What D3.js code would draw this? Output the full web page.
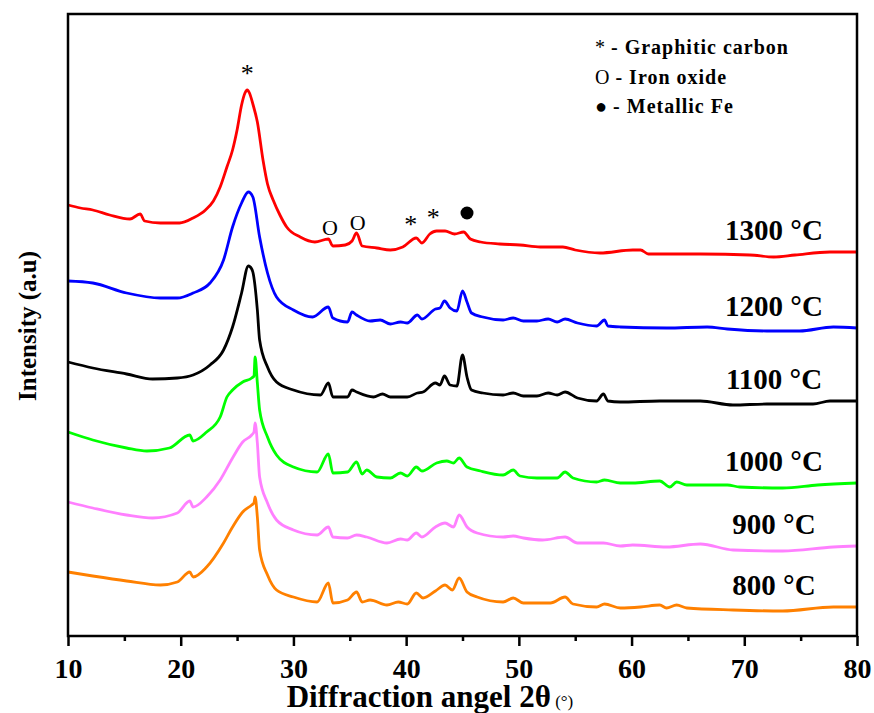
<!DOCTYPE html>
<html>

<head>
    <meta charset="utf-8">
    <script src="https://d3js.org/d3.v7.min.js"></script>
    <style>
        body { margin: 0; background: #fff; }
        text { font-family: "Liberation Serif", "Times New Roman", serif; }
    </style>
</head>

<body>
    <script type="text/javascript">
        // XRD patterns, [2theta, intensity a.u.]
        const s800 = [[10.0,64],[12.2,60],[15.2,55],[18.2,51],[19.7,54],[20.8,64],[21.1,59],[22.3,69],[23.8,93],[24.6,109],[25.5,124],[26.3,131],[26.5,133],[26.6,139],[26.8,119],[27.0,86],[27.7,61],[28.5,46],[30.0,39],[32.1,34],[33.1,53],[33.5,33],[34.8,36],[35.6,44],[36.1,34],[36.8,36],[38.3,31],[39.3,34],[40.1,32],[40.9,43],[41.5,38],[42.6,45],[43.45,51],[44.1,46],[44.7,58],[45.4,44],[46.3,39],[48.6,34],[49.5,38],[50.4,33],[52.8,33],[54.1,39],[54.8,32],[56.9,29],[57.6,32],[59.0,28],[60.8,29],[62.5,31],[63.1,28],[64.0,31],[64.9,28],[69.0,26],[73.4,25],[77.9,29],[80.0,29]];
        const s900 = [[10.0,134],[12.2,128],[15.2,121],[17.5,118],[19.7,123],[20.8,135],[21.1,129],[22.3,139],[23.5,156],[24.6,178],[25.5,194],[26.3,201],[26.5,204],[26.6,213],[26.8,193],[27.0,159],[27.7,133],[28.5,116],[30.0,106],[32.1,101],[33.1,109],[33.5,99],[34.8,98],[35.6,101],[36.5,99],[38.3,93],[39.5,97],[40.1,96],[40.9,103],[41.4,99],[42.6,109],[43.45,113],[44.2,109],[44.7,121],[45.4,109],[46.3,103],[48.6,99],[49.5,100],[50.4,98],[52.1,96],[54.1,99],[55.2,93],[57.5,93],[59.0,90],[60.1,91],[63.1,89],[66.1,92],[69.0,86],[73.4,85],[77.9,89],[80.0,90]];
        const s1000 = [[10.0,204],[12.2,196],[15.2,188],[17.0,185],[19.0,188],[20.8,201],[21.1,195],[22.3,204],[23.5,219],[24.1,239],[24.6,246],[25.5,254],[26.3,258],[26.5,260],[26.6,279],[26.8,253],[27.0,226],[27.7,199],[28.5,181],[30.0,169],[32.1,164],[33.1,182],[33.5,163],[34.8,164],[35.6,174],[36.1,162],[36.5,166],[37.4,159],[38.6,158],[39.5,163],[40.1,160],[40.9,169],[41.4,165],[42.7,173],[43.6,175],[44.2,173],[44.7,178],[45.4,169],[46.6,165],[48.6,161],[49.5,166],[50.1,160],[51.6,158],[53.4,158],[54.1,164],[54.8,158],[56.9,154],[57.6,156],[59.0,153],[60.1,153],[62.5,155],[63.4,149],[64.0,154],[64.9,151],[68.5,151],[69.6,149],[73.4,148],[76.5,151],[80.0,153]];
        const s1100 = [[10.0,274],[12.2,268],[15.2,262],[17.5,257],[19.7,258],[21.1,261],[22.6,271],[23.8,286],[24.6,309],[25.4,343],[26.0,370],[26.3,367],[26.4,364],[26.8,326],[27.0,296],[27.7,269],[28.5,254],[30.0,246],[32.4,241],[33.1,253],[33.5,239],[34.8,239],[35.2,246],[35.6,244],[37.1,239],[37.9,242],[38.6,239],[40.1,239],[41.0,243],[41.5,244],[42.6,253],[43.0,251],[43.4,260],[43.9,251],[44.5,250],[45.0,281],[45.4,259],[45.8,246],[46.8,243],[48.6,241],[49.5,243],[50.4,240],[51.6,240],[52.6,243],[53.4,241],[54.1,244],[55.2,238],[56.9,235],[57.5,242],[57.9,235],[59.0,234],[62.5,235],[66.1,235],[69.0,231],[72.0,232],[76.1,232],[77.6,235],[80.0,235]];
        const s1200 = [[10.0,355],[12.2,353],[15.2,343],[18.2,338],[19.7,338],[21.1,343],[22.6,353],[23.8,376],[24.6,409],[25.4,433],[26.0,444],[26.4,439],[27.0,399],[27.7,363],[28.5,339],[30.0,326],[31.7,319],[33.1,329],[33.5,318],[34.8,314],[35.2,324],[35.6,321],[36.8,315],[37.7,316],[38.6,312],[39.5,314],[40.1,313],[41.0,321],[41.4,317],[42.6,327],[43.0,328],[43.4,335],[43.9,328],[44.5,325],[45.0,345],[45.4,334],[45.8,323],[46.8,319],[48.6,316],[49.5,318],[50.4,315],[51.6,315],[52.6,317],[53.4,314],[54.1,317],[55.2,313],[56.9,310],[57.6,316],[57.9,310],[59.0,309],[63.1,308],[66.7,309],[68.5,307],[72.0,305],[74.9,305],[77.9,309],[80.0,308]];
        const s1300 = [[10.0,431],[11.1,428],[12.2,426],[13.7,421],[15.5,417],[16.4,422],[16.8,415],[18.2,413],[19.9,413],[21.1,418],[22.2,426],[22.9,435],[23.5,449],[24.1,469],[24.6,486],[25.0,506],[25.4,531],[25.7,543],[25.9,546],[26.1,543],[26.4,532],[26.8,514],[27.3,476],[27.7,452],[28.2,436],[28.8,421],[29.4,409],[30.6,399],[31.9,394],[33.1,397],[33.5,390],[34.6,391],[35.2,395],[35.6,403],[36.1,390],[37.4,388],[38.6,386],[39.7,389],[40.9,398],[41.4,393],[42.1,402],[42.7,405],[43.45,405],[44.3,402],[45.1,404],[45.7,397],[46.6,394],[48.3,392],[50.1,391],[51.9,389],[53.9,389],[55.0,386],[57.2,383],[60.1,386],[60.8,386],[61.5,382],[66.1,382],[70.5,381],[72.6,379],[74.5,381],[77.6,384],[80.0,384]];

        const series = [s800, s900, s1000, s1100, s1200, s1300];
        const temps = ["800 °C", "900 °C", "1000 °C", "1100 °C", "1200 °C", "1300 °C"];
        const colors = ["#ff8000", "#ff80ff", "#00ff00", "#000000", "#0000ff", "#ff0000"];

        const majorTicks = [10, 20, 30, 40, 50, 60, 70, 80];
        const minorTicks = [15, 25, 35, 45, 55, 65, 75];

        // phase marks above the 1300 °C pattern
        const marks = [
            {x: 25.9, v: 568, sym: "*"},
            {x: 33.25, v: 409, sym: "O"},
            {x: 35.7, v: 414, sym: "O"},
            {x: 40.4, v: 417, sym: "*"},
            {x: 42.4, v: 424, sym: "*"},
            {x: 45.4, v: 423, sym: "dot"}
        ];
        const legendSyms = ["*", "O", "\u25CF"];
        const legendNames = ["- Graphitic carbon", "- Iron oxide", "- Metallic Fe"];

        let width = 874, height = 713;
        let m = {left: 68, right: 857, top: 14, bottom: 636};

        let svg = d3.select("body").append("svg")
            .attr("width", width)
            .attr("height", height);

        let x = d3.scaleLinear().domain([10, 80]).range([m.left, m.right]);
        let y = d3.scaleLinear().domain([0, 622]).range([m.bottom, m.top]);

        let line = d3.line()
            .x(d => x(d[0]))
            .y(d => y(d[1]))
            .curve(d3.curveMonotoneX);

        series.forEach((s, i) => {
            svg.append("path")
                .attr("d", line(s))
                .attr("fill", "none")
                .attr("stroke", colors[i])
                .attr("stroke-width", 2.8)
                .attr("stroke-linejoin", "round");

            svg.append("text")
                .attr("x", 774)
                .attr("y", y(s[s.length - 1][1]) - 22 + 10)
                .attr("text-anchor", "middle")
                .attr("font-size", 29)
                .attr("font-weight", "bold")
                .text(temps[i]);
        });

        // x axis: major + minor ticks
        let gx = svg.append("g")
            .attr("transform", `translate(0,${m.bottom})`)
            .call(d3.axisBottom(x).tickValues(majorTicks).tickSize(10).tickSizeOuter(0)
                .tickPadding(12).tickFormat(d3.format("d")));
        gx.selectAll("text")
            .attr("font-size", 28)
            .attr("font-weight", "bold")
            .attr("font-family", "Liberation Serif")
            .attr("fill", "#000");
        gx.selectAll("line").attr("stroke-width", 2.5);
        gx.select(".domain").remove();

        let gm = svg.append("g")
            .attr("transform", `translate(0,${m.bottom})`)
            .call(d3.axisBottom(x).tickValues(minorTicks).tickSize(5).tickSizeOuter(0).tickFormat(""));
        gm.selectAll("line").attr("stroke-width", 2.5);
        gm.select(".domain").remove();

        // frame
        svg.append("rect")
            .attr("x", m.left).attr("y", m.top)
            .attr("width", m.right - m.left).attr("height", m.bottom - m.top)
            .attr("fill", "none")
            .attr("stroke", "#000")
            .attr("stroke-width", 2.5);

        // axis titles
        let xt = svg.append("text")
            .attr("x", 430)
            .attr("y", 707)
            .attr("text-anchor", "middle")
            .attr("font-size", 31)
            .attr("font-weight", "bold");
        xt.append("tspan").text("Diffraction angel 2\u03B8");
        xt.append("tspan").attr("font-size", 17).attr("font-weight", "normal").text(" (°)");

        svg.append("text")
            .attr("transform", "translate(36,326) rotate(-90)")
            .attr("text-anchor", "middle")
            .attr("font-size", 25)
            .attr("font-weight", "bold")
            .text("Intensity (a.u)");

        // phase marks
        marks.forEach(d => {
            if (d.sym === "dot") {
                svg.append("circle")
                    .attr("cx", x(d.x)).attr("cy", y(d.v))
                    .attr("r", 6.5).attr("fill", "#000");
            } else {
                let fs = d.sym === "O" ? 22 : 26;
                let shift = d.sym === "O" ? 7.5 : 14;
                svg.append("text")
                    .attr("x", x(d.x))
                    .attr("y", y(d.v) + shift)
                    .attr("text-anchor", "middle")
                    .attr("font-size", fs)
                    .text(d.sym);
            }
        });

        // legend
        legendNames.forEach((name, i) => {
            let t = svg.append("text")
                .attr("x", 595)
                .attr("y", 54 + i * 29.5)
                .attr("font-size", 20);
            t.append("tspan").text(legendSyms[i]);
            t.append("tspan").attr("font-weight", "bold").attr("letter-spacing", 1).text(" " + name);
        });
    </script>
</body>

</html>
